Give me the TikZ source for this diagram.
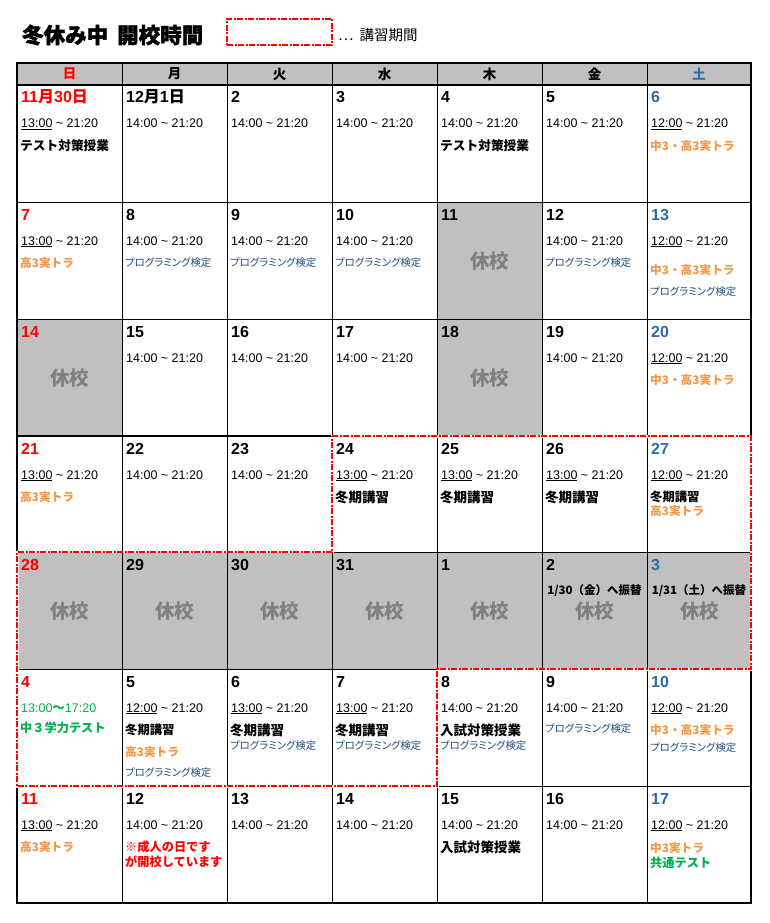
\documentclass[tikz,border=0pt]{standalone}
\usepackage{fontspec}
\setmainfont{Liberation Sans}
\newfontfamily\jp{Noto Sans CJK JP}
\newfontfamily\jpp{Noto Sans CJK JP}[RawFeature=+palt]
\newfontfamily\jpt{Noto Sans CJK JP}[BoldFeatures={FakeBold=2}]
\definecolor{satblue}{HTML}{2F6BA8}
\definecolor{orng}{HTML}{F79646}
\definecolor{progblue}{HTML}{1F497D}
\definecolor{grn}{HTML}{00B050}
\definecolor{cellgray}{HTML}{C0C0C0}
\definecolor{restgray}{HTML}{808080}
\definecolor{kred}{HTML}{FF0000}
\newcommand\fs[1]{\fontsize{#1}{#1}\selectfont}
\newcommand\ulx[1]{\setbox0\hbox{#1}\rlap{\rule[-1.6pt]{\wd0}{0.9pt}}\box0\relax}
\newcommand\tA{14:00 \textasciitilde{} 21:20}
\newcommand\tB[1]{\ulx{#1} \textasciitilde{} 21:20}
\newcommand\X[1]{(min(17+105*(#1),751))}
\newcommand\Y[1]{(round(85+116.86*(#1)))}
\newcommand\calnum[5]{\node[daynum,text=#4] (#1) at ({\X{#2}+4},{\Y{#3}+18}) {#5};}
\newcommand\caltime[4]{\node[timest] (#1) at ({\X{#2}+4},{\Y{#3}+43}) {#4};}
\newcommand\calnote[6]{\node[#5] (#1) at ({\X{#2}+3},{\Y{#3}+#4}) {#6};}
\newcommand\calrest[3]{\node[rest] (#1) at ({\X{#2}+52.5},{\Y{#3}+59.5}) {休校};}
\tikzset{
  daynum/.style={anchor=base west, inner sep=0pt, font=\fs{16}\bfseries},
  timest/.style={anchor=base west, inner sep=0pt, font=\fs{12.5}},
  noteb/.style={anchor=west, inner sep=0pt, font=\jp\bfseries\fs{12.7}},
  notew/.style={anchor=west, inner sep=0pt, font=\jp\bfseries\fs{13.5}},
  notes/.style={anchor=west, inner sep=0pt, font=\jp\bfseries\fs{12.3}},
  orangenote/.style={anchor=west, inner sep=0pt, font=\jp\bfseries\fs{11.7}, text=orng},
  prognote/.style={anchor=west, inner sep=0pt, font=\jpp\fs{10.4}, text=progblue},
  rednote/.style={anchor=west, inner sep=0pt, font=\jp\bfseries\fs{12.2}, text=kred},
  greennote/.style={anchor=west, inner sep=0pt, font=\jp\bfseries\fs{12.2}, text=grn},
  shiftnote/.style={anchor=center, inner sep=0pt, font=\jp\bfseries\fs{11.5}},
  rest/.style={anchor=center, inner sep=0pt, font=\jp\bfseries\fs{19.5}, text=restgray},
  headtxt/.style={anchor=center, inner sep=0pt, font=\jp\bfseries\fs{13.5}},
  thinline/.style={line width=1pt, black},
  koushu/.style={draw=kred, line width=2pt, dash pattern=on 6pt off 1.5pt on 2pt off 1.5pt},
}
\begin{document}
\begin{tikzpicture}[x=1pt, y=-1pt]
\useasboundingbox (0,0) rectangle (770,923);
% title and legend
\node[anchor=west, inner sep=0pt, font=\jpt\bfseries\fs{21.5}] (title) at (22,35) {冬休み中\hspace{9pt}開校時間};
\node[koushu, minimum width=105pt, minimum height=26pt, inner sep=0pt] (leg) at (279.5,32) {};
\node[anchor=west, inner sep=0pt, font=\jp\fs{14.5}] (legtxt) at (338,35) {…\hspace{6pt}講習期間};
% gray fills
\fill[cellgray] (17,63) rectangle (751,85);
\fill[cellgray] ({\X{4}},{\Y{1}}) rectangle ({\X{5}},{\Y{2}});
\fill[cellgray] ({\X{0}},{\Y{2}}) rectangle ({\X{1}},{\Y{3}});
\fill[cellgray] ({\X{4}},{\Y{2}}) rectangle ({\X{5}},{\Y{3}});
\fill[cellgray] ({\X{0}},{\Y{4}}) rectangle ({\X{7}},{\Y{5}});
% grid
\foreach \i in {1,...,6} \draw[thinline] ({\X{\i}},63) -- ({\X{\i}},903);
\foreach \j in {1,...,6} \draw[thinline] (17,{\Y{\j}}) -- (751,{\Y{\j}});
\draw[line width=2pt] (17,85) -- (751,85);
\draw[line width=2pt] (17,{\Y{3}}) -- ({\X{3}},{\Y{3}});
\draw[line width=2.6pt] (17,63) rectangle (751,903);
% lecture period outline
\draw[white, line width=3pt] ({\X{3}},{\Y{3}}) -- (751,{\Y{3}}) -- (751,{\Y{5}}) -- ({\X{4}},{\Y{5}}) -- ({\X{4}},{\Y{6}}) -- (17,{\Y{6}}) -- (17,{\Y{4}}) -- ({\X{3}},{\Y{4}}) -- cycle;
\fill[cellgray] (18.5,{\Y{4}+1}) rectangle (749.5,{\Y{5}-1});
\foreach \i in {1,...,6} \draw[thinline] ({\X{\i}},{\Y{4}}) -- ({\X{\i}},{\Y{5}});
\draw[koushu] ({\X{3}},{\Y{3}}) -- (751,{\Y{3}}) -- (751,{\Y{5}}) -- ({\X{4}},{\Y{5}}) -- ({\X{4}},{\Y{6}}) -- (17,{\Y{6}}) -- (17,{\Y{4}}) -- ({\X{3}},{\Y{4}}) -- cycle;
% header
\node[headtxt,text=kred] (h0) at ({\X{0}+52.5},74) {日};
\node[headtxt] (h1) at ({\X{1}+52.5},74) {月};
\node[headtxt] (h2) at ({\X{2}+52.5},74) {火};
\node[headtxt] (h3) at ({\X{3}+52.5},74) {水};
\node[headtxt] (h4) at ({\X{4}+52.5},74) {木};
\node[headtxt] (h5) at ({\X{5}+52.5},74) {金};
\node[headtxt,text=satblue] (h6) at ({\X{6}+52},74) {土};
% row 0
\calnum{d00}{0}{0}{kred}{11{\jp 月}30{\jp 日}}
\caltime{t00}{0}{0}{\tB{13:00}}
\calnote{a00}{0}{0}{61}{noteb}{テスト対策授業}
\calnum{d10}{1}{0}{black}{12{\jp 月}1{\jp 日}}
\caltime{t10}{1}{0}{\tA}
\calnum{d20}{2}{0}{black}{2}
\caltime{t20}{2}{0}{\tA}
\calnum{d30}{3}{0}{black}{3}
\caltime{t30}{3}{0}{\tA}
\calnum{d40}{4}{0}{black}{4}
\caltime{t40}{4}{0}{\tA}
\calnote{a40}{4}{0}{61}{noteb}{テスト対策授業}
\calnum{d50}{5}{0}{black}{5}
\caltime{t50}{5}{0}{\tA}
\calnum{d60}{6}{0}{satblue}{6}
\caltime{t60}{6}{0}{\tB{12:00}}
\calnote{a60}{6}{0}{61.5}{orangenote}{中3・高3実トラ}
% row 1
\calnum{d01}{0}{1}{kred}{7}
\caltime{t01}{0}{1}{\tB{13:00}}
\calnote{a01}{0}{1}{61}{orangenote}{高3実トラ}
\calnum{d11}{1}{1}{black}{8}
\caltime{t11}{1}{1}{\tA}
\calnote{a11}{1}{1}{61}{prognote}{プログラミング検定}
\calnum{d21}{2}{1}{black}{9}
\caltime{t21}{2}{1}{\tA}
\calnote{a21}{2}{1}{61}{prognote}{プログラミング検定}
\calnum{d31}{3}{1}{black}{10}
\caltime{t31}{3}{1}{\tA}
\calnote{a31}{3}{1}{61}{prognote}{プログラミング検定}
\calnum{d41}{4}{1}{black}{11}
\calrest{r41}{4}{1}
\calnum{d51}{5}{1}{black}{12}
\caltime{t51}{5}{1}{\tA}
\calnote{a51}{5}{1}{61}{prognote}{プログラミング検定}
\calnum{d61}{6}{1}{satblue}{13}
\caltime{t61}{6}{1}{\tB{12:00}}
\calnote{a61}{6}{1}{68}{orangenote}{中3・高3実トラ}
\calnote{b61}{6}{1}{90}{prognote}{プログラミング検定}
% row 2
\calnum{d02}{0}{2}{kred}{14}
\calrest{r02}{0}{2}
\calnum{d12}{1}{2}{black}{15}
\caltime{t12}{1}{2}{\tA}
\calnum{d22}{2}{2}{black}{16}
\caltime{t22}{2}{2}{\tA}
\calnum{d32}{3}{2}{black}{17}
\caltime{t32}{3}{2}{\tA}
\calnum{d42}{4}{2}{black}{18}
\calrest{r42}{4}{2}
\calnum{d52}{5}{2}{black}{19}
\caltime{t52}{5}{2}{\tA}
\calnum{d62}{6}{2}{satblue}{20}
\caltime{t62}{6}{2}{\tB{12:00}}
\calnote{a62}{6}{2}{61}{orangenote}{中3・高3実トラ}
% row 3
\calnum{d03}{0}{3}{kred}{21}
\caltime{t03}{0}{3}{\tB{13:00}}
\calnote{a03}{0}{3}{61}{orangenote}{高3実トラ}
\calnum{d13}{1}{3}{black}{22}
\caltime{t13}{1}{3}{\tA}
\calnum{d23}{2}{3}{black}{23}
\caltime{t23}{2}{3}{\tA}
\calnum{d33}{3}{3}{black}{24}
\caltime{t33}{3}{3}{\tB{13:00}}
\calnote{a33}{3}{3}{61.5}{notew}{冬期講習}
\calnum{d43}{4}{3}{black}{25}
\caltime{t43}{4}{3}{\tB{13:00}}
\calnote{a43}{4}{3}{61.5}{notew}{冬期講習}
\calnum{d53}{5}{3}{black}{26}
\caltime{t53}{5}{3}{\tB{13:00}}
\calnote{a53}{5}{3}{61.5}{notew}{冬期講習}
\calnum{d63}{6}{3}{satblue}{27}
\caltime{t63}{6}{3}{\tB{12:00}}
\calnote{a63}{6}{3}{61}{notes}{冬期講習}
\calnote{b63}{6}{3}{75}{orangenote}{高3実トラ}
% row 4
\calnum{d04}{0}{4}{kred}{28}
\calrest{r04}{0}{4}
\calnum{d14}{1}{4}{black}{29}
\calrest{r14}{1}{4}
\calnum{d24}{2}{4}{black}{30}
\calrest{r24}{2}{4}
\calnum{d34}{3}{4}{black}{31}
\calrest{r34}{3}{4}
\calnum{d44}{4}{4}{black}{1}
\calrest{r44}{4}{4}
\calnum{d54}{5}{4}{black}{2}
\calrest{r54}{5}{4}
\node[shiftnote] (s54) at ({\X{5}+52.5},{\Y{4}+39}) {1/30（金）へ振替};
\calnum{d64}{6}{4}{satblue}{3}
\calrest{r64}{6}{4}
\node[shiftnote] (s64) at ({\X{6}+52},{\Y{4}+39}) {1/31（土）へ振替};
% row 5
\calnum{d05}{0}{5}{kred}{4}
\caltime{t05}{0}{5}{\textcolor{grn}{13:00{\jp\bfseries 〜}17:20}}
\calnote{a05}{0}{5}{59}{greennote}{中３学力テスト}
\calnum{d15}{1}{5}{black}{5}
\caltime{t15}{1}{5}{\tB{12:00}}
\calnote{a15}{1}{5}{61}{notes}{冬期講習}
\calnote{b15}{1}{5}{83}{orangenote}{高3実トラ}
\calnote{c15}{1}{5}{104}{prognote}{プログラミング検定}
\calnum{d25}{2}{5}{black}{6}
\caltime{t25}{2}{5}{\tB{13:00}}
\calnote{a25}{2}{5}{61}{notew}{冬期講習}
\calnote{b25}{2}{5}{77}{prognote}{プログラミング検定}
\calnum{d35}{3}{5}{black}{7}
\caltime{t35}{3}{5}{\tB{13:00}}
\calnote{a35}{3}{5}{61}{notew}{冬期講習}
\calnote{b35}{3}{5}{77}{prognote}{プログラミング検定}
\calnum{d45}{4}{5}{black}{8}
\caltime{t45}{4}{5}{\tA}
\calnote{a45}{4}{5}{61}{notew}{入試対策授業}
\calnote{b45}{4}{5}{77}{prognote}{プログラミング検定}
\calnum{d55}{5}{5}{black}{9}
\caltime{t55}{5}{5}{\tA}
\calnote{a55}{5}{5}{60}{prognote}{プログラミング検定}
\calnum{d65}{6}{5}{satblue}{10}
\caltime{t65}{6}{5}{\tB{12:00}}
\calnote{a65}{6}{5}{61}{orangenote}{中3・高3実トラ}
\calnote{b65}{6}{5}{79}{prognote}{プログラミング検定}
% row 6
\calnum{d06}{0}{6}{kred}{11}
\caltime{t06}{0}{6}{\tB{13:00}}
\calnote{a06}{0}{6}{61}{orangenote}{高3実トラ}
\calnum{d16}{1}{6}{black}{12}
\caltime{t16}{1}{6}{\tA}
\calnote{a16}{1}{6}{61}{rednote}{※成人の日です}
\calnote{b16}{1}{6}{76}{rednote}{が開校しています}
\calnum{d26}{2}{6}{black}{13}
\caltime{t26}{2}{6}{\tA}
\calnum{d36}{3}{6}{black}{14}
\caltime{t36}{3}{6}{\tA}
\calnum{d46}{4}{6}{black}{15}
\caltime{t46}{4}{6}{\tA}
\calnote{a46}{4}{6}{61}{notew}{入試対策授業}
\calnum{d56}{5}{6}{black}{16}
\caltime{t56}{5}{6}{\tA}
\calnum{d66}{6}{6}{satblue}{17}
\caltime{t66}{6}{6}{\tB{12:00}}
\calnote{a66}{6}{6}{62}{orangenote}{中3実トラ}
\calnote{b66}{6}{6}{77}{greennote}{共通テスト}
\end{tikzpicture}
\end{document}
